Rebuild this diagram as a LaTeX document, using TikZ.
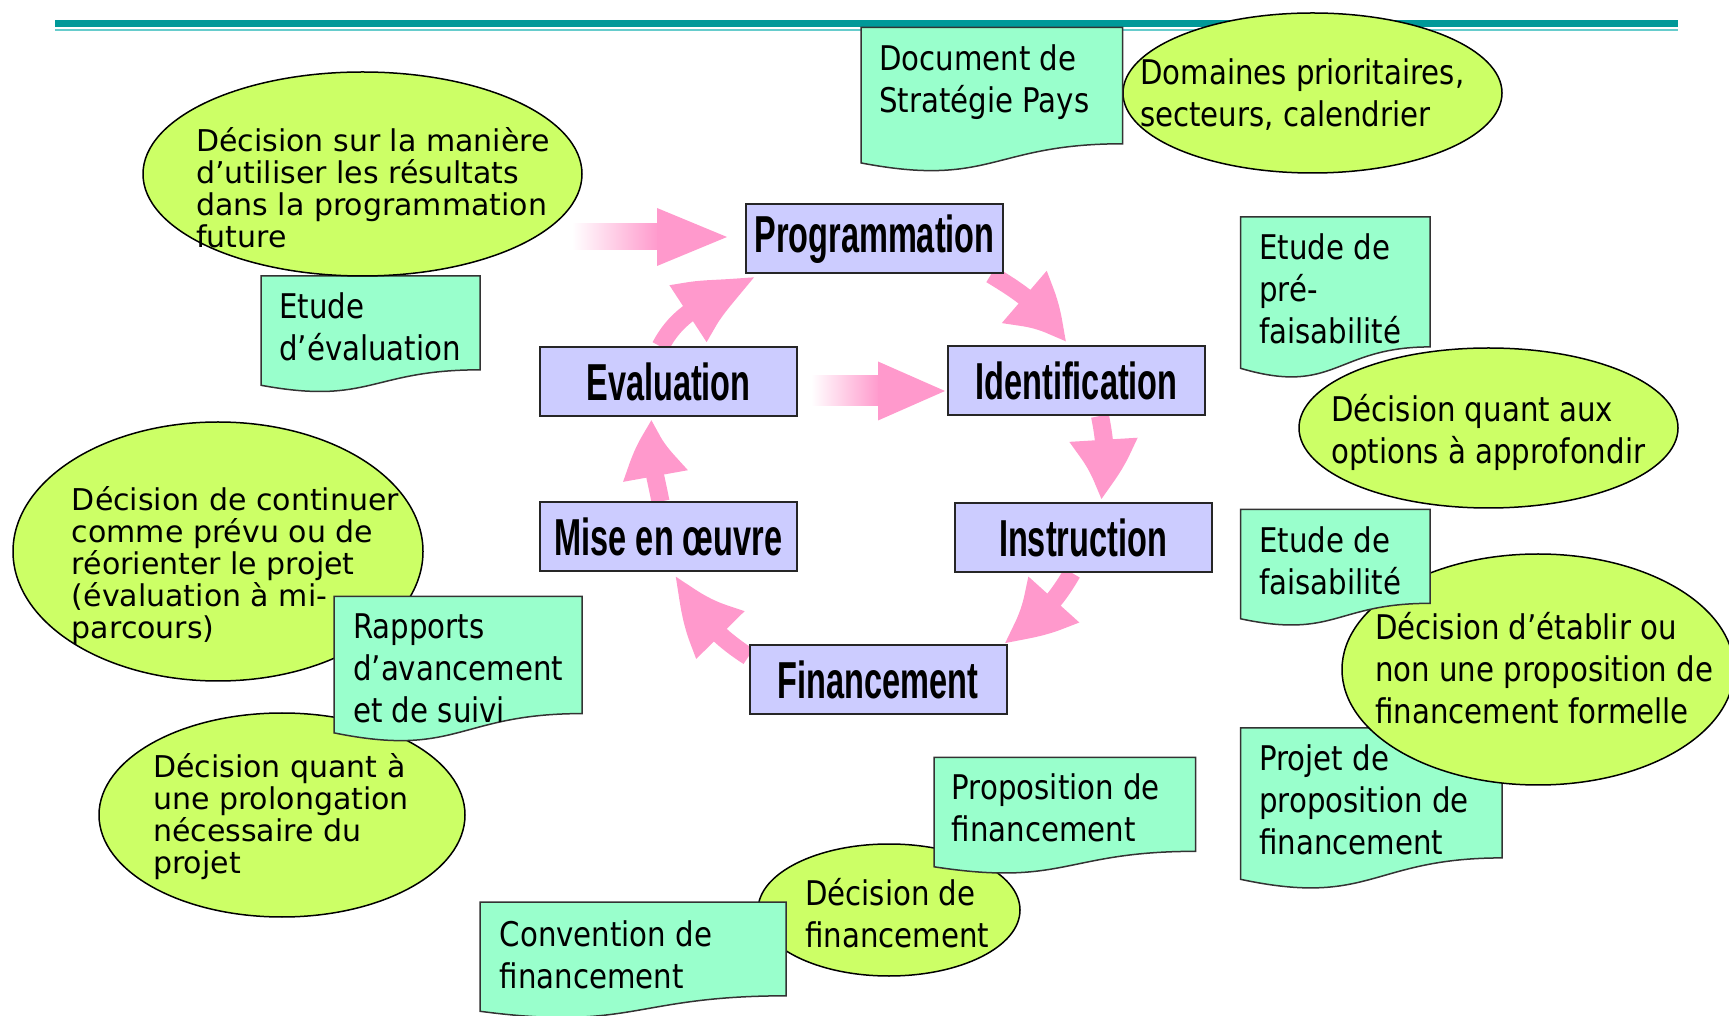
\documentclass[tikz,border=0pt]{standalone}
\usepackage{fontspec}
\usetikzlibrary{calc,shapes.geometric,arrows.meta,bending}
\newfontfamily\tahf[FakeStretch=0.86]{DejaVu Sans}
\newfontfamily\verf{DejaVu Sans}
\newfontfamily\boxf[FakeStretch=0.625]{Liberation Sans}
\definecolor{ellc}{HTML}{CCFF66}
\definecolor{docc}{HTML}{99FFCC}
\definecolor{boxc}{HTML}{CCCCFF}
\definecolor{pinkc}{HTML}{FF99CC}
\definecolor{bandc}{HTML}{009999}
\definecolor{bandl}{HTML}{66CCCC}
\pgfdeclarelayer{bg}
\pgfsetlayers{bg,main}
\newcommand\docshape[5]{%
  \node[docbox, minimum width=#4pt, minimum height=#5pt, anchor=north west] (#1) at (#2,#3) {};
  \filldraw[doc] (#1.north west) -- (#1.north east) -- ($(#1.north east)!0.802!(#1.south east)$)
    .. controls ($(#1.north)!0.802!(#1.south)$) and ($(#1.north)!1.107!(#1.south)$) .. ($(#1.north west)!0.934!(#1.south west)$) -- cycle;
}
\begin{document}
\begin{tikzpicture}[x=1pt,y=1pt,
  ell/.style={ellipse, draw=black, line width=1.5pt, fill=ellc, inner sep=0pt},
  docbox/.style={inner sep=0pt, outer sep=0pt},
  doc/.style={draw=black!80, line width=1.5pt, fill=docc},
  stage/.style={draw=black!85, line width=2pt, fill=boxc, minimum width=257pt, minimum height=69pt, inner sep=0pt, font=\boxf\bfseries\fontsize{52pt}{58pt}\selectfont},
  tah/.style={anchor=west, align=left, inner sep=0pt, font=\tahf\fontsize{34pt}{42pt}\selectfont, execute at begin node=\strut, execute at end node=\strut},
  ver/.style={anchor=west, align=left, inner sep=0pt, font=\verf\fontsize{30pt}{32pt}\selectfont, execute at begin node=\strut, execute at end node=\strut},
  cyc/.style={draw=pinkc, line width=18pt},
]
\useasboundingbox (0,0) rectangle (1729,1015);
% top band
\fill[bandc] (55,988) rectangle (1678,994.5);
\fill[bandl] (55,983.5) rectangle (1678,985.5);

% stages
\node[stage] (prog) at (874.5,776) {Programmation};
\node[stage] (ident) at (1076.5,634.5) {Identification};
\node[stage] (instr) at (1083,477.5) {Instruction};
\node[stage] (fin) at (878,335) {Financement};
\node[stage] (eval) at (668.5,633) {Evaluation};
\node[stage] (mise) at (668.5,478) {Mise en œuvre};

\begin{pgfonlayer}{bg}
\draw[cyc,-{Triangle[length=88pt,width=60pt,bend]}] ([xshift=-8pt]eval.north) to[out=62.5,in=212.5] ([xshift=12pt]prog.south west);
\draw[cyc,-{Triangle[length=72pt,width=60pt,bend]}] ([xshift=-13pt]prog.south east) to[out=-31,in=121] ([xshift=-10pt]ident.north);
\draw[cyc,-{Triangle[length=70pt,width=60pt,bend]}] ([xshift=23.5pt]ident.south) to[out=-78.6,in=79.1] ([xshift=17pt]instr.north);
\draw[cyc,-{Triangle[length=78pt,width=60pt,bend]}] ([xshift=-11pt]instr.south) to[out=-120,in=33.7] ([xshift=-6pt]fin.north east);
\draw[cyc,-{Triangle[length=88pt,width=60pt,bend]}] ([yshift=-12pt]fin.north west) to[out=147.2,in=-61.2] ([xshift=6pt]mise.south);
\draw[cyc,-{Triangle[length=66pt,width=58pt,bend]}] ([xshift=-8pt]mise.north) to[out=101,in=-101] ([xshift=-15pt]eval.south);
\end{pgfonlayer}

% gradient arrows
\shade[left color=white, right color=pinkc] ($(prog.west)+(-173,-11)$) rectangle ($(prog.west)+(-86,15)$);
\fill[pinkc] ($(prog.west)+(-88,31)$) -- ($(prog.west)+(-18,2)$) -- ($(prog.west)+(-88,-27)$) -- cycle;
\shade[left color=white, right color=pinkc] ($(ident.west)+(-136,-25.5)$) rectangle ($(ident.west)+(-67,4.5)$);
\fill[pinkc] ($(ident.west)+(-69,19)$) -- ($(ident.west)+(-2,-10.5)$) -- ($(ident.west)+(-69,-40)$) -- cycle;

% shapes
\node[ell, minimum width=379pt, minimum height=160pt] (e1) at (1312.5,922) {};
\docshape{d1}{861}{987.5}{261.5}{145}
\docshape{d2}{261}{739}{219}{117}
\node[ell, minimum width=439pt, minimum height=204pt] (e2) at (362.5,841) {};
\docshape{d3}{1240.5}{798}{189.5}{162}
\node[ell, minimum width=379pt, minimum height=160pt] (e3) at (1488.5,587) {};
\node[ell, minimum width=410pt, minimum height=259pt] (e4) at (218,463.5) {};
\node[ell, minimum width=366pt, minimum height=204pt] (e6) at (282,200) {};
\docshape{d5}{334}{418.5}{248}{146}
\docshape{d6}{1240.5}{287}{261.5}{162}
\node[ell, minimum width=392pt, minimum height=231pt] (e5) at (1538,345.5) {};
\docshape{d4}{1240.5}{505.5}{189.5}{117}
\node[ell, minimum width=262pt, minimum height=132pt] (e7) at (889,105) {};
\docshape{d7}{934}{257.5}{261.5}{117}
\docshape{d8}{480}{113}{306}{117}

% texts
\node[tah] (t1) at (1140,915.7) {Domaines prioritaires,\\secteurs, calendrier};
\node[ver] (t2) at (196,822.5) {Décision sur la manière\\d’utiliser les résultats\\dans la programmation\\future};
\node[tah] (t3) at (1331,579.5) {Décision quant aux\\options à approfondir};
\node[ver] (t4) at (71.7,447.2) {Décision de continuer\\comme prévu ou de\\réorienter le projet\\(évaluation à mi-\\parcours)};
\node[tah] (t5) at (1375,341.2) {Décision d’établir ou\\non une proposition de\\financement formelle};
\node[ver] (t6) at (153,196.5) {Décision quant à\\une prolongation\\nécessaire du\\projet};
\node[tah] (t7) at (805,96) {Décision de\\financement};
\node[tah] (u1) at (879,930.5) {Document de\\Stratégie Pays};
\node[tah] (u2) at (279,682.5) {Etude\\d’évaluation};
\node[tah] (u3) at (1259,720) {Etude de\\pré-\\faisabilité};
\node[tah] (u4) at (1259,448.5) {Etude de\\faisabilité};
\node[tah] (u5) at (353,340.5) {Rapports\\d’avancement\\et de suivi};
\node[tah] (u6) at (1259,209.5) {Projet de\\proposition de\\financement};
\node[tah] (u7) at (951.6,201) {Proposition de\\financement};
\node[tah] (u8) at (499.5,54) {Convention de\\financement};
\end{tikzpicture}
\end{document}
